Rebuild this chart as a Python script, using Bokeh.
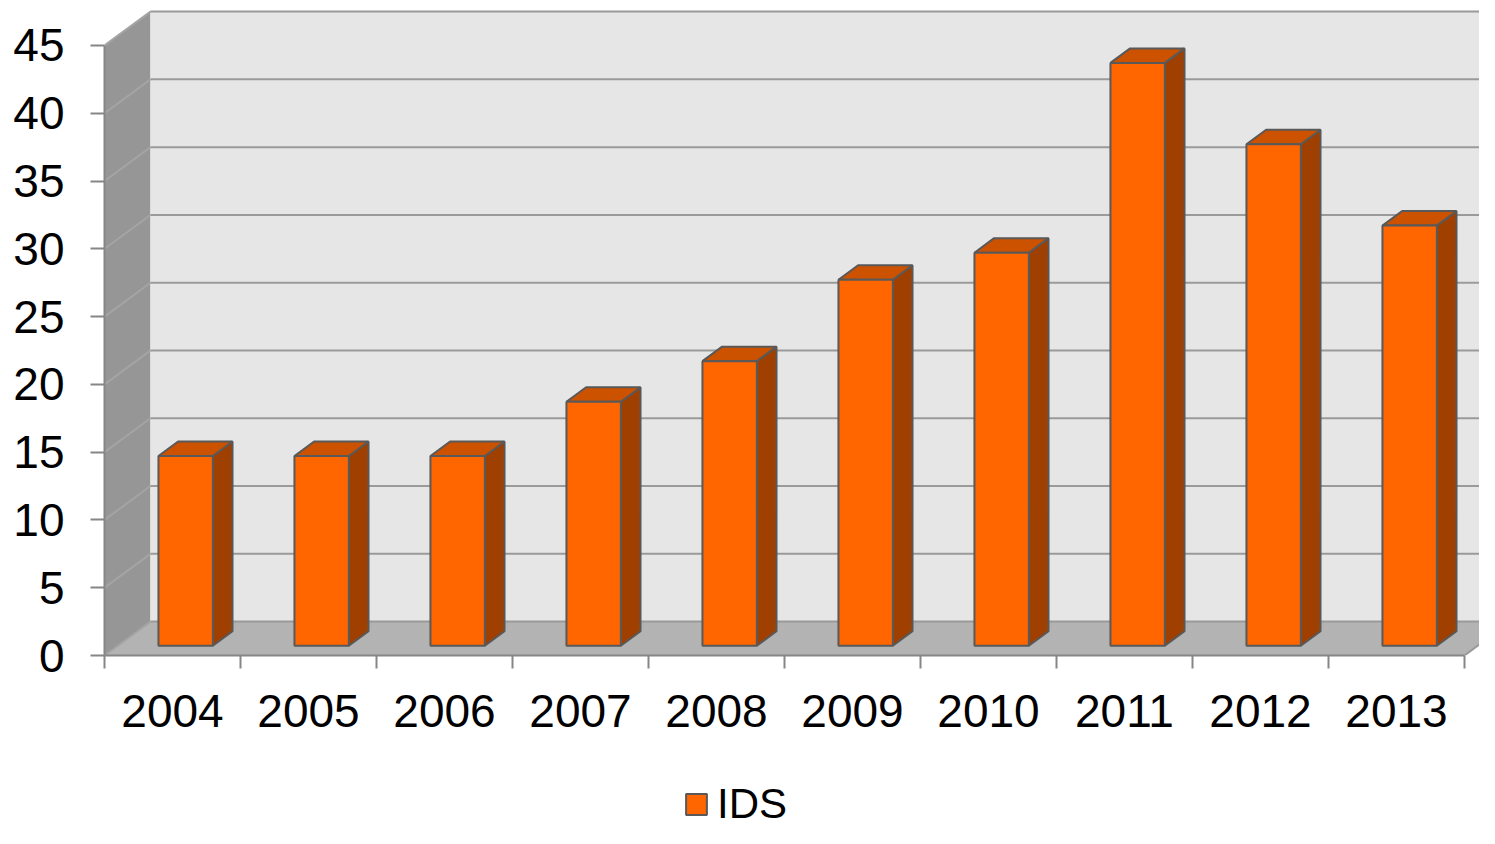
from bokeh.plotting import figure
from bokeh.layouts import column
from bokeh.models import FixedTicker, Legend, LegendItem, Range1d
from bokeh.embed import file_html
from bokeh.resources import INLINE

# ---- data ----
years = ["2004", "2005", "2006", "2007", "2008", "2009", "2010", "2011", "2012", "2013"]
ids_values = [14, 14, 14, 18, 21, 27, 29, 43, 37, 31]
y_ticks = [0, 5, 10, 15, 20, 25, 30, 35, 40, 45]
series_name = "IDS"

# ---- 3D styling (offsets in data units) ----
DX, DY = 0.338, 2.5          # depth of the chart box
BAR_W = 0.4
F_FRONT, F_DEPTH = 0.286, 0.428

n = len(years)
ymax = y_ticks[-1]
centers = [i + 0.5 for i in range(n)]
fx, fy = F_FRONT * DX, F_FRONT * DY
bx, by = F_DEPTH * DX, F_DEPTH * DY
lefts = [c - BAR_W / 2 + fx for c in centers]
rights = [c + BAR_W / 2 + fx for c in centers]
tops = [v + fy for v in ids_values]

FONT = "Liberation Sans"
GRID = "#9a9a9a"
AXIS = "#868686"
OUTLINE = "#595959"
FRONT, SIDE, TOP = "#ff6600", "#a04000", "#cc5200"

W = 1479
H1, H2 = 770, 58
LEFT, BOTTOM = 104, 115
p = figure(width=W, height=H1,
           x_range=Range1d(0, (W - LEFT) / 136), y_range=Range1d(0, (H1 - BOTTOM) / 13.556),
           output_backend="svg", toolbar_location=None,
           min_border_left=LEFT, min_border_right=0, min_border_top=0, min_border_bottom=BOTTOM)
p.outline_line_color = None
p.grid.visible = False

# walls and floor
p.patch(x=[0, DX, DX, 0], y=[0, DY, ymax + DY, ymax], fill_color="#969696", line_color=None)
p.quad(left=DX, right=n + DX, bottom=DY, top=ymax + DY, fill_color="#e6e6e6", line_color=None)
p.patch(x=[0, n, n + DX, DX], y=[0, 0, DY, DY], fill_color="#b3b3b3", line_color=None)

# gridlines on side wall and back wall
p.segment(x0=[0] * len(y_ticks), y0=y_ticks, x1=[DX] * len(y_ticks), y1=[t + DY for t in y_ticks],
          line_color="#a4a4a4", line_width=2)
p.segment(x0=[DX] * len(y_ticks), y0=[t + DY for t in y_ticks], x1=[n + DX] * len(y_ticks),
          y1=[t + DY for t in y_ticks], line_color=GRID, line_width=2)
p.segment(x0=[n], y0=[0], x1=[n + DX], y1=[DY], line_color=GRID, line_width=2)

# bars: side faces, top faces, front faces
p.patches(xs=[[r, r + bx, r + bx, r] for r in rights],
          ys=[[fy, fy + by, t + by, t] for t in tops],
          fill_color=SIDE, line_color=OUTLINE, line_width=2)
p.patches(xs=[[l, r, r + bx, l + bx] for l, r in zip(lefts, rights)],
          ys=[[t, t, t + by, t + by] for t in tops],
          fill_color=TOP, line_color=OUTLINE, line_width=2)
p.quad(left=lefts, right=rights, bottom=fy, top=tops,
       fill_color=FRONT, line_color=OUTLINE, line_width=2)

# axes
ya = p.yaxis[0]
ya.ticker = FixedTicker(ticks=y_ticks)
ya.bounds = (0, ymax)
ya.axis_line_color = AXIS
ya.axis_line_width = 2
ya.major_tick_line_color = AXIS
ya.major_tick_line_width = 2
ya.major_tick_out = 14
ya.major_tick_in = 0
ya.minor_tick_line_color = None
ya.major_label_text_font = FONT
ya.major_label_text_font_size = "46px"
ya.major_label_text_color = "black"
ya.major_label_standoff = 26

xa = p.xaxis[0]
xa.ticker = FixedTicker(ticks=centers, minor_ticks=list(range(n + 1)))
xa.major_label_overrides = {c: y for c, y in zip(centers, years)}
xa.bounds = (0, n)
xa.axis_line_color = AXIS
xa.axis_line_width = 2
xa.major_tick_out = 0
xa.major_tick_in = 0
xa.minor_tick_out = 13
xa.minor_tick_in = 0
xa.minor_tick_line_color = AXIS
xa.minor_tick_line_width = 2
xa.major_label_text_font = FONT
xa.major_label_text_font_size = "46px"
xa.major_label_text_color = "black"
xa.major_label_standoff = 26

# legend strip below the chart
lg = figure(width=W, height=H2, x_range=Range1d(0, 1), y_range=Range1d(0, 1),
            output_backend="svg", toolbar_location=None,
            x_axis_location=None, y_axis_location=None,
            min_border_left=0, min_border_right=0, min_border_top=0, min_border_bottom=0)
lg.outline_line_color = None
lg.grid.visible = False
key = lg.quad(left=[-3], right=[-2], bottom=[-3], top=[-2],
              fill_color=FRONT, line_color=OUTLINE, line_width=2)
legend = Legend(items=[LegendItem(label=series_name, renderers=[key])],
                location=(579, 0), orientation="horizontal",
                border_line_color=None, background_fill_alpha=0,
                label_text_font=FONT, label_text_font_size="42px", label_text_color="black",
                glyph_width=26, glyph_height=26, padding=0, margin=0, label_standoff=8)
lg.add_layout(legend)

layout = column(p, lg, spacing=0)
open("out.html", "w").write(file_html(layout, INLINE))
